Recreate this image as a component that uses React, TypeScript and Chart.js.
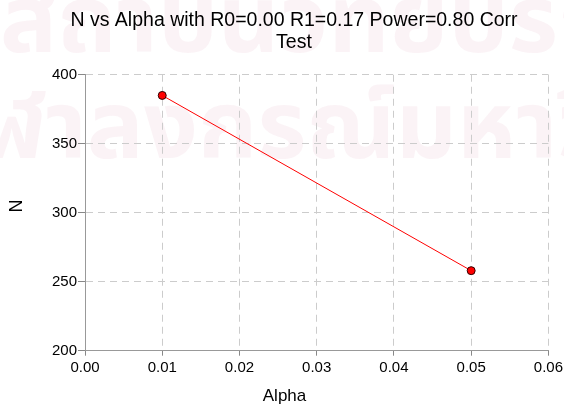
import React, { useEffect, useRef } from 'react';
import { Chart, registerables } from 'chart.js';

Chart.register(...registerables);

const alphaValues = [0.01, 0.05];
const nValues = [385, 258];
const xTickValues = [0, 0.01, 0.02, 0.03, 0.04, 0.05, 0.06];
const yTickValues = [200, 250, 300, 350, 400];
const titleLines = ['N vs Alpha with R0=0.00 R1=0.17 Power=0.80 Corr', 'Test'];
const xAxisTitle = 'Alpha';
const yAxisTitle = 'N';
const watermarkLines = ['สถาบันวิทยบริการ', 'จุฬาลงกรณ์มหาวิทยาลัย'];

const FONT = "'Liberation Sans', Arial, Helvetica, sans-serif";

const overlayPlugin = {
  id: 'overlayText',
  beforeDraw(chart: any) {
    const ctx = chart.ctx;
    ctx.save();
    ctx.fillStyle = 'rgba(200, 100, 140, 0.075)';
    ctx.font = `bold 95px 'Noto Sans Thai', 'Noto Sans', sans-serif`;
    ctx.textBaseline = 'alphabetic';
    ctx.textAlign = 'left';
    ctx.fillText(watermarkLines[0], 0, 52);
    ctx.fillText(watermarkLines[1], -75, 158);
    ctx.restore();
  },
  afterDraw(chart: any) {
    const ctx = chart.ctx;
    ctx.save();
    ctx.fillStyle = '#000';
    ctx.font = `17px ${FONT}`;
    ctx.textAlign = 'center';
    ctx.textBaseline = 'alphabetic';
    ctx.fillText(xAxisTitle, 284.5, 401);
    ctx.translate(17, 206);
    ctx.rotate(-Math.PI / 2);
    ctx.font = `18px ${FONT}`;
    ctx.textBaseline = 'middle';
    ctx.fillText(yAxisTitle, 0, 0);
    ctx.restore();
  },
};

export default function App() {
  const canvasRef = useRef<HTMLCanvasElement | null>(null);

  useEffect(() => {
    document.body.style.margin = '0';
    const canvas = canvasRef.current;
    if (!canvas) return;
    const chart = new Chart(canvas, {
      type: 'line',
      data: {
        datasets: [
          {
            label: 'N',
            data: alphaValues.map((a, i) => ({ x: a, y: nValues[i] })),
            borderColor: '#ff0000',
            borderWidth: 1,
            backgroundColor: '#ff0000',
            pointRadius: 4,
            pointHoverRadius: 4,
            pointBackgroundColor: '#ff0000',
            pointBorderColor: '#300000',
            pointBorderWidth: 1,
            tension: 0,
          },
        ],
      },
      options: {
        responsive: false,
        animation: false,
        devicePixelRatio: 1,
        layout: { padding: { left: 24, right: 0, top: 0, bottom: 0 } },
        plugins: {
          legend: { display: false },
          tooltip: { enabled: false },
          title: {
            display: true,
            text: titleLines,
            color: '#000',
            font: { family: FONT, size: 19.5, weight: 'normal', lineHeight: 1.16 },
            padding: { top: 9, bottom: 20.5 },
          },
        },
        scales: {
          x: {
            type: 'linear',
            min: 0,
            max: 0.06,
            afterBuildTicks: (scale: any) => {
              scale.ticks = xTickValues.map((v) => ({ value: v }));
            },
            afterFit: (scale: any) => {
              scale.height = 56.3;
              scale.paddingRight = 15.6;
            },
            ticks: {
              color: '#000',
              font: { family: FONT, size: 15 },
              padding: 3,
              maxRotation: 0,
              autoSkip: false,
              callback: (v: any) => Number(v).toFixed(2),
            },
            grid: {
              color: '#cccccc',
              lineWidth: 1,
              drawTicks: true,
              tickLength: 5,
              tickColor: '#888888',
              tickBorderDash: [],
            },
            border: { display: true, color: '#999999', width: 1, dash: [7, 5] },
          },
          y: {
            type: 'linear',
            min: 200,
            max: 400,
            afterBuildTicks: (scale: any) => {
              scale.ticks = yTickValues.map((v) => ({ value: v }));
            },
            afterFit: (scale: any) => {
              scale.width = 61;
            },
            ticks: {
              color: '#000',
              font: { family: FONT, size: 15 },
              padding: 1,
              callback: (v: any) => String(v),
            },
            grid: {
              color: '#cccccc',
              lineWidth: 1,
              drawTicks: true,
              tickLength: 7,
              tickColor: '#888888',
              tickBorderDash: [],
            },
            border: { display: true, color: '#999999', width: 1, dash: [7, 5] },
          },
        },
      },
      plugins: [overlayPlugin],
    } as any);
    return () => chart.destroy();
  }, []);

  return (
    <div style={{ position: 'absolute', left: 0, top: 0, width: 564, height: 407, background: '#fff' }}>
      <canvas ref={canvasRef} width={564} height={407} />
    </div>
  );
}
